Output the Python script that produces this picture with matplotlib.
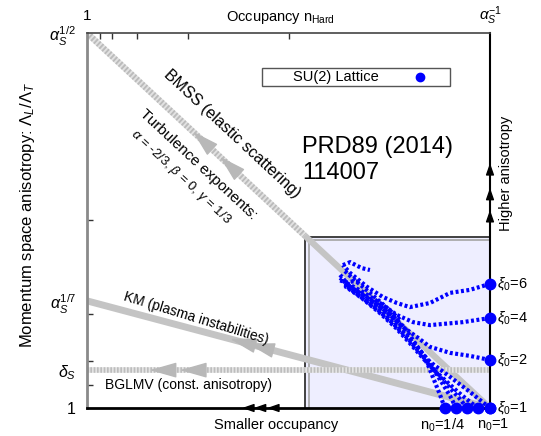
import numpy as np
import matplotlib.pyplot as plt
from matplotlib.patches import Rectangle

plt.rcParams['font.family'] = ['Liberation Sans', 'DejaVu Sans']
plt.rcParams['mathtext.fontset'] = 'custom'
plt.rcParams['mathtext.rm'] = 'Liberation Sans'
plt.rcParams['mathtext.it'] = 'Liberation Sans:italic'

# axes units: x = log n / log(1/alpha), y = exponent of alpha / (1/2)
delta_s = 0.101
km_start = 2 / 7
top_minor = [1/32, 1/16, 1/8, 1/4, 1/2]
left_minor = [1/16, 1/8, 1/4, 1/2]
ytick_pos = [0, delta_s, km_start, 1]
ytick_lab = ['1', r'$\delta_S$', r'$\alpha_S^{1/7}$', r'$\alpha_S^{1/2}$']

# lattice curves, xi0 series (start on the right edge)
xi6_x = [1.000, 0.950, 0.901, 0.851, 0.801, 0.769, 0.734, 0.695, 0.653, 0.635]
xi6_y = [0.331, 0.315, 0.307, 0.280, 0.269, 0.280, 0.296, 0.323, 0.360, 0.381]
xi4_x = [1.000, 0.933, 0.851, 0.809, 0.769, 0.727, 0.685, 0.645, 0.628]
xi4_y = [0.240, 0.229, 0.221, 0.229, 0.248, 0.280, 0.309, 0.333, 0.355]
xi2_x = [1.000, 0.950, 0.901, 0.851, 0.819, 0.784, 0.744, 0.695, 0.653, 0.628]
xi2_y = [0.128, 0.139, 0.147, 0.163, 0.189, 0.216, 0.256, 0.296, 0.323, 0.347]
xi1_x = [1.000, 0.950, 0.901, 0.851, 0.814, 0.777, 0.739, 0.690, 0.640]
xi1_y = [0.000, 0.043, 0.083, 0.123, 0.168, 0.208, 0.248, 0.288, 0.328]
# n0 series (start on the bottom edge)
n0a_x = [0.888, 0.876, 0.861, 0.846, 0.829, 0.809, 0.789, 0.759, 0.722, 0.677, 0.640]
n0a_y = [0.000, 0.035, 0.075, 0.115, 0.149, 0.181, 0.213, 0.245, 0.275, 0.307, 0.333]
n0b_x = [0.916, 0.901, 0.881, 0.861, 0.839, 0.816, 0.792, 0.759, 0.722, 0.677, 0.640]
n0b_y = [0.000, 0.032, 0.067, 0.101, 0.136, 0.168, 0.200, 0.235, 0.267, 0.301, 0.331]
n0c_x = [0.943, 0.923, 0.901, 0.876, 0.851, 0.826, 0.797, 0.764, 0.722, 0.677, 0.640]
n0c_y = [0.000, 0.027, 0.053, 0.083, 0.115, 0.147, 0.184, 0.221, 0.261, 0.299, 0.328]
n0d_x = [0.970, 0.945, 0.918, 0.891, 0.861, 0.831, 0.801, 0.767, 0.727, 0.682, 0.640]
n0d_y = [0.000, 0.021, 0.045, 0.072, 0.101, 0.136, 0.173, 0.213, 0.253, 0.293, 0.325]
band_x = [0.640, 0.660, 0.690, 0.720, 0.750, 0.780]
band_y = [0.365, 0.345, 0.318, 0.290, 0.262, 0.232]
hook_x = [0.635, 0.653, 0.667, 0.682, 0.702]
hook_y = [0.381, 0.389, 0.381, 0.373, 0.368]
hook2_x = [0.628, 0.645, 0.662, 0.680]
hook2_y = [0.340, 0.335, 0.338, 0.336]

xi_labels = ['6', '4', '2', '1']
xi_ends = [xi6_y[0], xi4_y[0], xi2_y[0], xi1_y[0]]
n0_starts = [n0a_x[0], n0b_x[0], n0c_x[0], n0d_x[0], 1.0]

fig = plt.figure(figsize=(5.41, 4.36), dpi=100)
ax = fig.add_axes([87/541, 28/436, 403/541, 375/436])
ax.set_xlim(0, 1)
ax.set_ylim(0, 1)

gray = '#c4c4c4'
blue = '#0000ff'

# inset region
ax.add_patch(Rectangle((0.541, 0), 0.459, 0.456, facecolor='#eeeeff', edgecolor='none', zorder=0))
ax.plot([0.541, 0.541, 1], [0, 0.456, 0.456], color='#333333', lw=1.3, zorder=1)
ax.plot([0.551, 0.551, 1], [0, 0.448, 0.448], color='#aaaaaa', lw=1.3, zorder=1)

# BMSS diagonal
ax.plot([0, 0.54], [1, 0.46], color='#e2e2e2', lw=4.5, solid_capstyle='butt', zorder=2)
ax.plot([0, 0.54], [1, 0.46], color='#bbbbbb', lw=4.5, dashes=(0.3, 0.3),
        dash_capstyle='butt', zorder=2)
ax.plot([0.54, 1], [0.46, 0], color=gray, lw=4.5, solid_capstyle='butt', zorder=2)
# KM
ax.plot([0, 1], [km_start, 0], color=gray, lw=5, solid_capstyle='butt', zorder=2)
# BGLMV
ax.plot([0, 1], [delta_s, delta_s], color='#e4e4e4', lw=4, solid_capstyle='butt', zorder=2)
ax.plot([0, 1], [delta_s, delta_s], color='#bdbdbd', lw=4, dashes=(0.3, 0.3),
        dash_capstyle='butt', zorder=2)


def head(x0, y0, x1, y1, color, scale, w=0.45, hl=1.0, z=3):
    ax.annotate('', xy=(x1, y1), xytext=(x0, y0),
                arrowprops=dict(arrowstyle=f'-|>,head_length={hl},head_width={w}',
                                color=color, lw=1, mutation_scale=scale,
                                shrinkA=0, shrinkB=0),
                zorder=z, annotation_clip=False)


for xa in [0.263, 0.330]:
    head(xa + 0.035, 1 - xa - 0.035, xa, 1 - xa, '#b8b8b8', 12, w=0.4, hl=1.4)
for xa in [0.355, 0.40]:
    head(xa + 0.035, km_start * (1 - xa - 0.035), xa, km_start * (1 - xa), '#b8b8b8', 12,
         w=0.4, hl=1.4)
for xa in [0.156, 0.231]:
    head(xa + 0.035, delta_s, xa, delta_s, '#b8b8b8', 12, w=0.4, hl=1.4)
for xa in [0.385, 0.414, 0.447]:
    head(xa + 0.02, 0, xa, 0, 'black', 7, w=0.35, z=6)
for ya in [0.528, 0.587, 0.653]:
    head(1, ya - 0.02, 1, ya, 'black', 7, w=0.35, z=6)

# lattice curves
curves = [(xi6_x, xi6_y), (xi4_x, xi4_y), (xi2_x, xi2_y), (xi1_x, xi1_y),
          (n0a_x, n0a_y), (n0b_x, n0b_y), (n0c_x, n0c_y), (n0d_x, n0d_y),
          (band_x, band_y), (hook_x, hook_y), (hook2_x, hook2_y)]
for cx, cy in curves:
    ax.plot(cx, cy, color=blue, lw=3, dashes=(0.7, 0.6), dash_capstyle='butt', zorder=4)
ax.plot([1] * 4, xi_ends, 'o', color=blue, ms=7.5, clip_on=False, zorder=7)
ax.plot(n0_starts, [0] * 5, 'o', color=blue, ms=7.5, clip_on=False, zorder=7)

# legend box
ax.add_patch(Rectangle((0.434, 0.859), 0.467, 0.048, facecolor='white', edgecolor='#555555',
                       lw=1, zorder=5))
ax.text(0.618, 0.883, 'SU(2) Lattice', ha='center', va='center', fontsize=10.5, zorder=6)
ax.plot([0.826], [0.883], 'o', color=blue, ms=6, zorder=6)

ax.text(0.534, 0.696, 'PRD89 (2014)', ha='left', va='center', fontsize=17)
ax.text(0.534, 0.627, '114007', ha='left', va='center', fontsize=17)

# line annotations
ang = -np.degrees(np.arctan(375 / 403))
ax.text(0.360, 0.730, 'BMSS (elastic scattering)', rotation=ang, ha='center', va='center',
        fontsize=11.5)
ax.text(0.277, 0.650, 'Turbulence exponents:', rotation=ang, ha='center', va='center',
        fontsize=11)
ax.text(0.233, 0.617, r'$\alpha$ = -2/3, $\beta$ = 0, $\gamma$ = 1/3', rotation=ang,
        ha='center', va='center', fontsize=9.5)
ax.text(0.270, 0.240, 'KM (plasma instabilities)', rotation=-17, ha='center', va='center',
        fontsize=10)
ax.text(0.045, 0.061, 'BGLMV (const. anisotropy)', ha='left', va='center', fontsize=10)

# right and bottom labels
for lab, yv in zip(xi_labels, xi_ends):
    ax.text(1.017, yv, r'$\xi_0$=' + lab, ha='left', va='center', fontsize=10.5, clip_on=False)
ax.text(0.881, -0.045, r'n$_0$=1/4', ha='center', va='center', fontsize=10.5)
ax.text(1.007, -0.045, r'n$_0$=1', ha='center', va='center', fontsize=10.5)
ax.text(0.470, -0.045, 'Smaller occupancy', ha='center', va='center', fontsize=10.5)
ax.text(1.040, 0.625, 'Higher anisotropy', rotation=90, ha='center', va='center', fontsize=10.5)
ax.text(0.480, 1.042, r'Occupancy n$_{\mathrm{Hard}}$', ha='center', va='center', fontsize=10.5)
ax.text(0.0, 1.045, '1', ha='center', va='center', fontsize=11)
ax.text(1.0, 1.045, r'$\alpha_S^{-1}$', ha='center', va='center', fontsize=11)
ax.set_ylabel(r'Momentum space anisotropy: $\Lambda_L/\Lambda_T$', fontsize=12)
ax.yaxis.set_label_coords(-0.125, 0.515)

# ticks
ax.set_xticks([])
ax.set_xticks(top_minor, minor=True)
ax.xaxis.tick_top()
ax.set_yticks(ytick_pos, ytick_lab, fontsize=11.5)
ax.set_yticks(left_minor, minor=True)
ax.tick_params(axis='y', which='major', length=0, pad=8)
ax.tick_params(which='minor', direction='in', length=4, width=1, color='#333333')
ax.tick_params(axis='x', which='minor', top=True, bottom=False)

ax.spines['left'].set_color('#8a8a8a')
ax.spines['left'].set_linewidth(2)
ax.spines['top'].set_color('#444444')
ax.spines['top'].set_linewidth(1.2)
ax.spines['right'].set_color('black')
ax.spines['right'].set_linewidth(1.5)
ax.spines['bottom'].set_color('black')
ax.spines['bottom'].set_linewidth(2)
for s in ax.spines.values():
    s.set_zorder(5)

fig.savefig('out.png', dpi=100)
